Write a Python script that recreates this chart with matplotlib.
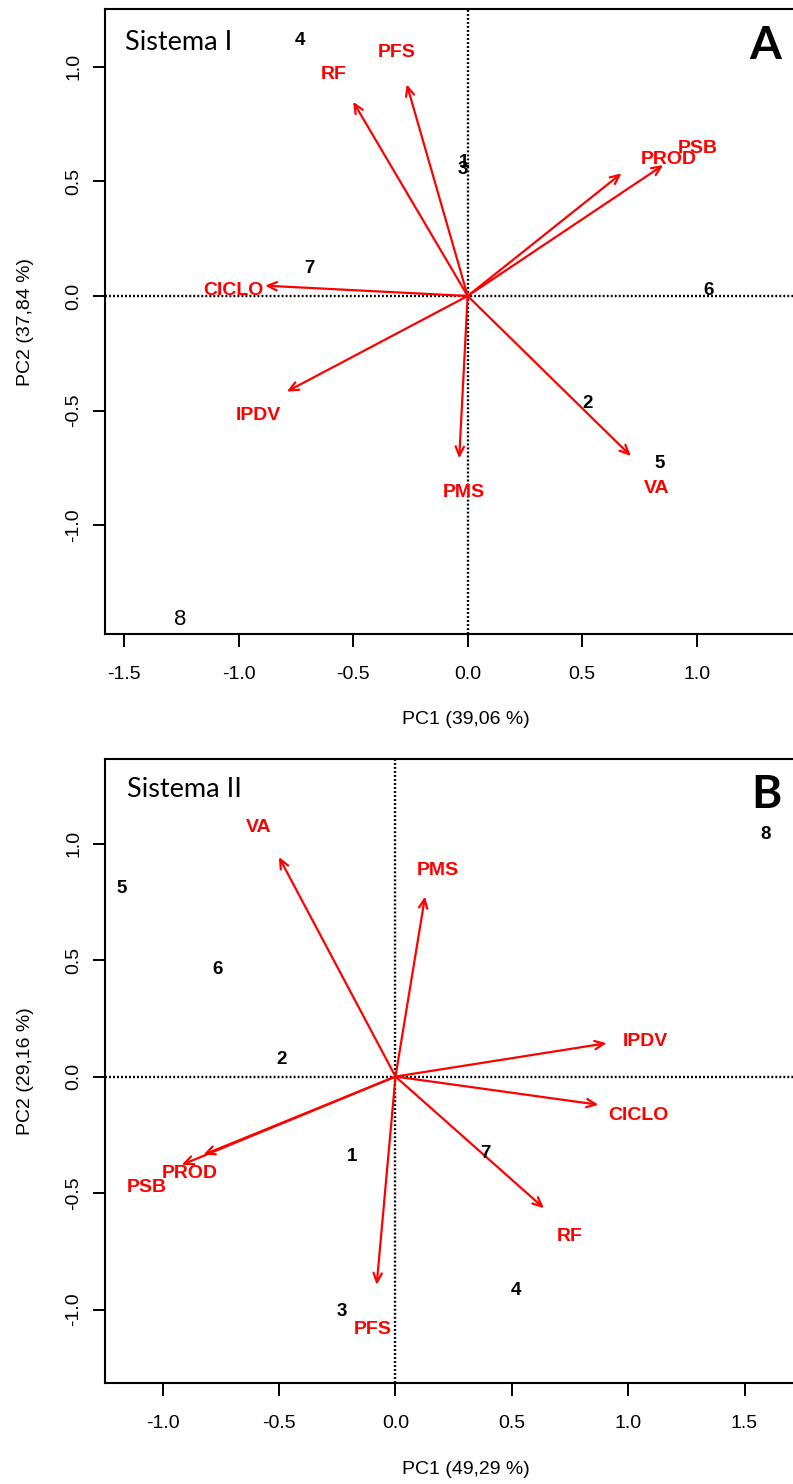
import matplotlib
matplotlib.use("Agg")
import matplotlib.pyplot as plt

plt.rcParams["font.family"] = ["Liberation Sans", "DejaVu Sans"]
plt.rcParams["axes.unicode_minus"] = False

# Sistema I
vars_a = ["RF", "PFS", "PROD", "PSB", "CICLO", "IPDV", "PMS", "VA"]
tip_a_x = [-0.50, -0.266, 0.672, 0.854, -0.885, -0.79, -0.037, 0.713]
tip_a_y = [0.847, 0.923, 0.535, 0.571, 0.045, -0.417, -0.708, -0.698]
lab_a_x = [-0.584, -0.309, 0.876, 1.004, -1.024, -0.914, -0.019, 0.825]
lab_a_y = [0.964, 1.06, 0.593, 0.644, 0.022, -0.523, -0.858, -0.839]
obs_a = ["1", "2", "3", "4", "5", "6", "7", "8"]
obs_a_x = [-0.017, 0.524, -0.022, -0.732, 0.84, 1.051, -0.692, -1.256]
obs_a_y = [0.58, -0.468, 0.55, 1.116, -0.73, 0.022, 0.118, -1.413]

# Sistema II
vars_b = ["VA", "PMS", "IPDV", "CICLO", "RF", "PROD", "PSB", "PFS"]
tip_b_x = [-0.501, 0.127, 0.907, 0.872, 0.638, -0.826, -0.919, -0.081]
tip_b_y = [0.942, 0.773, 0.143, -0.121, -0.565, -0.336, -0.379, -0.894]
lab_b_x = [-0.587, 0.181, 1.072, 1.044, 0.75, -0.886, -1.067, -0.098]
lab_b_y = [1.07, 0.883, 0.15, -0.167, -0.687, -0.418, -0.475, -1.084]
obs_b = ["1", "2", "3", "4", "5", "6", "7", "8"]
obs_b_x = [-0.188, -0.489, -0.229, 0.518, -1.177, -0.764, 0.385, 1.592]
obs_b_y = [-0.343, 0.072, -1.009, -0.918, 0.806, 0.458, -0.329, 1.04]

paneles = [
    dict(vars=vars_a, tx=tip_a_x, ty=tip_a_y, lx=lab_a_x, ly=lab_a_y,
         obs=obs_a, ox=obs_a_x, oy=obs_a_y, pos=[0.1328, 0.5728, 0.9097, 0.4209],
         xlim=(-1.5825, 1.568), ylim=(-1.474, 1.250),
         xt=[-1.5, -1.0, -0.5, 0.0, 0.5, 1.0], yt=[-1.0, -0.5, 0.0, 0.5, 1.0],
         xl="PC1 (39,06 %)", yl="PC2 (37,84 %)", sis="Sistema I", letra="A",
         sis_xy=(0.0273, 0.9466), letra_xy=(0.9145, 0.942), normal8=True),
    dict(vars=vars_b, tx=tip_b_x, ty=tip_b_y, lx=lab_b_x, ly=lab_b_y,
         obs=obs_b, ox=obs_b_x, oy=obs_b_y, pos=[0.1328, 0.0679, 0.9097, 0.4207],
         xlim=(-1.247, 1.853), ylim=(-1.316, 1.363),
         xt=[-1.0, -0.5, 0.0, 0.5, 1.0, 1.5], yt=[-1.0, -0.5, 0.0, 0.5, 1.0],
         xl="PC1 (49,29 %)", yl="PC2 (29,16 %)", sis="Sistema II", letra="B",
         sis_xy=(0.0297, 0.9503), letra_xy=(0.9158, 0.9423), normal8=False),
]

fig = plt.figure(figsize=(7.93, 14.84), dpi=100)
for p in paneles:
    ax = fig.add_axes(p["pos"])
    ax.set_xlim(p["xlim"])
    ax.set_ylim(p["ylim"])
    ax.axhline(0, color="black", lw=1.7, ls=(0, (0.8, 0.9)), zorder=1)
    ax.axvline(0, color="black", lw=1.7, ls=(0, (0.8, 0.9)), zorder=1)
    for v, tx, ty, lx, ly in zip(p["vars"], p["tx"], p["ty"], p["lx"], p["ly"]):
        ax.annotate("", xy=(tx, ty), xytext=(0, 0),
                    arrowprops=dict(arrowstyle="->,head_length=0.55,head_width=0.25",
                                    color="red", lw=1.6, shrinkA=0, shrinkB=0,
                                    mutation_scale=12), zorder=3)
        ax.text(lx, ly, v, color="red", fontsize=14, fontweight="bold",
                ha="center", va="center", zorder=4)
    for o, ox, oy in zip(p["obs"], p["ox"], p["oy"]):
        if o == "8" and p["normal8"]:
            ax.text(ox, oy, o, fontsize=16, ha="center", va="center", zorder=4)
        else:
            ax.text(ox, oy, o, fontsize=13.5, fontweight="bold", ha="center",
                    va="center", zorder=4)
    ax.text(*p["sis_xy"], p["sis"], transform=ax.transAxes, fontsize=19.5,
            family=["Lato", "DejaVu Sans"], ha="left", va="center")
    ax.text(*p["letra_xy"], p["letra"], transform=ax.transAxes, fontsize=33,
            family=["Lato", "DejaVu Sans"], fontweight="bold", ha="center", va="center")

    ax.set_xticks(p["xt"])
    ax.set_xticklabels([f"{t:.1f}" for t in p["xt"]])
    ax.set_yticks(p["yt"])
    ax.set_yticklabels([f"{t:.1f}" for t in p["yt"]], rotation=90, va="center")
    ax.tick_params(axis="both", length=9, width=1.4, labelsize=14, direction="out")
    ax.tick_params(axis="x", pad=14)
    ax.tick_params(axis="y", pad=7.5)
    for s in ["left", "bottom", "top"]:
        ax.spines[s].set_linewidth(1.5)
    ax.spines["right"].set_visible(False)

    ax.set_xlabel(p["xl"], fontsize=14, va="center")
    ax.set_ylabel(p["yl"], fontsize=14, va="center")
    ax.xaxis.set_label_coords(0.5, -0.1377)
    ax.yaxis.set_label_coords(-0.1113, 0.5)

plt.savefig("out.png", dpi=100)
print("[+] Guardada: out.png")
